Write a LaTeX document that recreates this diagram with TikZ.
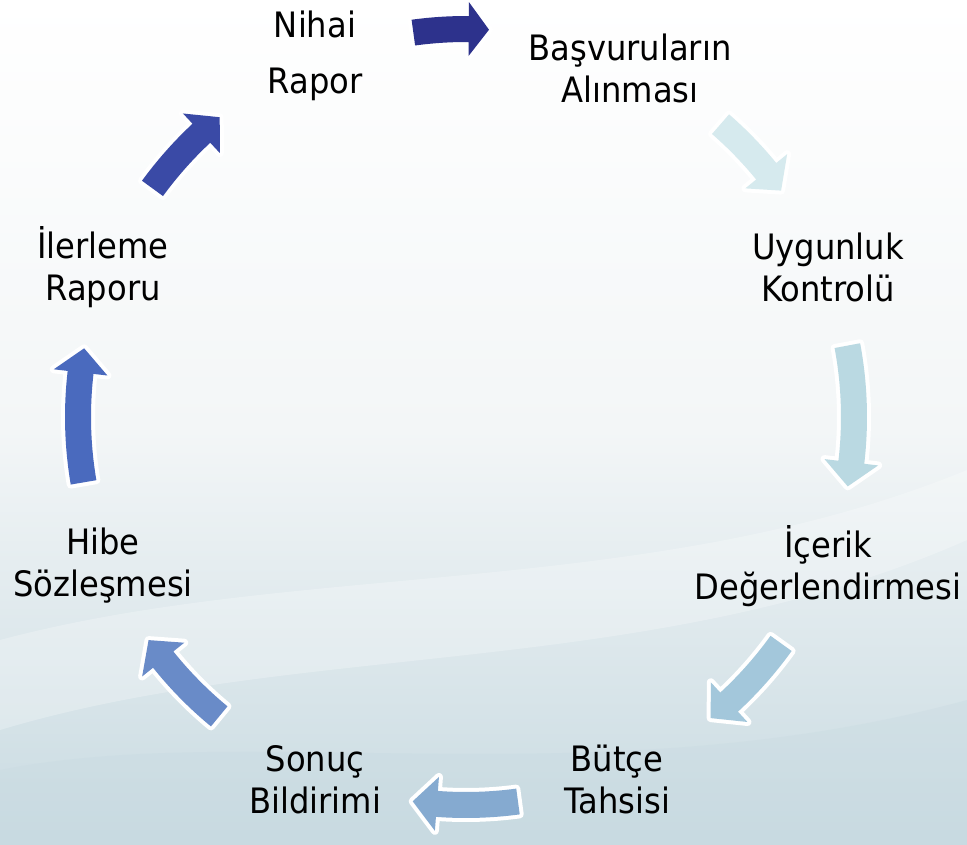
\documentclass[tikz,border=0pt]{standalone}
\usepackage{fontspec}
\setmainfont{DejaVu Sans}[FakeStretch=0.92]
\usetikzlibrary{calc}
\definecolor{aone}{RGB}{45,50,140}
\definecolor{atwo}{RGB}{214,234,238}
\definecolor{athree}{RGB}{186,217,226}
\definecolor{afour}{RGB}{163,199,219}
\definecolor{afive}{RGB}{133,170,208}
\definecolor{asix}{RGB}{105,139,200}
\definecolor{aseven}{RGB}{74,106,190}
\definecolor{aeight}{RGB}{58,74,166}
\definecolor{bgmid}{RGB}{243,246,247}
\definecolor{bgbot}{RGB}{200,218,225}
\newcommand\cyclearrow[4]{% colour, start angle, end angle, head length (deg)
  \pgfmathsetmacro\hbase{#3-#4}
  \fill[#1, preaction={draw=white, line width=8pt, line join=round}]
    (C) ++(#2:375) arc[start angle=#2, end angle=\hbase, radius=375]
    -- ($(C)+(\hbase:361)$) -- ($(C)+(#3:388)$) -- ($(C)+(\hbase:415)$)
    -- ($(C)+(\hbase:401)$) arc[start angle=\hbase, end angle=#2, radius=401]
    -- cycle;
}
\begin{document}
\begin{tikzpicture}[x=1pt,y=-1pt,
  lbl/.style={align=center, font=\fontsize{35}{42}\selectfont, text=black, inner sep=0pt}]
\useasboundingbox (0,0) rectangle (967,844);
% background
\fill[top color=white, bottom color=bgmid] (0,0) rectangle (967,430);
\fill[top color=bgmid, bottom color=bgbot] (0,430) rectangle (967,844);
\fill[white, opacity=0.25] (0,640) .. controls (300,560) and (650,600) .. (967,470)
  -- (967,540) .. controls (650,680) and (300,640) .. (0,730) -- cycle;
\fill[bgbot, opacity=0.35] (0,770) .. controls (250,720) and (600,800) .. (967,700)
  -- (967,844) -- (0,844) -- cycle;
\coordinate (C) at (466,417);
% arrows
\cyclearrow{aone}{-97.8}{-86.6}{3.0}
\cyclearrow{atwo}{-49}{-35.7}{3.6}
\cyclearrow{athree}{-10.6}{10.3}{3.6}
\cyclearrow{afour}{35.7}{50.9}{3.6}
\cyclearrow{afive}{82.3}{97.9}{3.6}
\cyclearrow{asix}{129.5}{144.9}{3.6}
\cyclearrow{aseven}{170.3}{190.2}{3.6}
\cyclearrow{aeight}{216.1}{230.6}{3.6}
% labels
\node[lbl] (nihai) at (315,56) {Nihai\\[14pt]Rapor};
\node[lbl] (basvuru) at (630,68) {Başvuruların\\Alınması};
\node[lbl] (uygun) at (828,267) {Uygunluk\\Kontrolü};
\node[lbl] (icerik) at (828,566) {İçerik\\Değerlendirmesi};
\node[lbl] (butce) at (617,779) {Bütçe\\Tahsisi};
\node[lbl] (sonuc) at (315,780) {Sonuç\\Bildirimi};
\node[lbl] (hibe) at (103,566) {Hibe\\Sözleşmesi};
\node[lbl] (ilerleme) at (103,267) {İlerleme\\Raporu};
\end{tikzpicture}
\end{document}
